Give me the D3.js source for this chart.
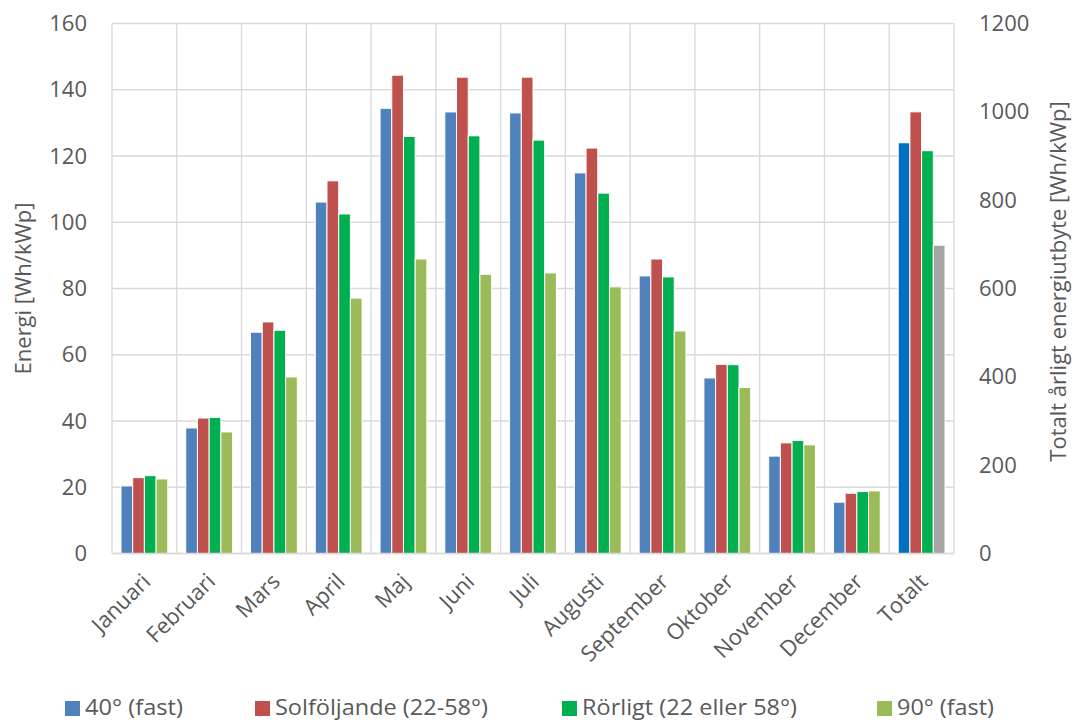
<!DOCTYPE html>
<html>
<head>
<meta charset="utf-8">
<script src="https://cdn.jsdelivr.net/npm/d3@7"></script>
<style>
  html, body { margin: 0; padding: 0; background: #fff; }
  svg { display: block; font-family: "Open Sans", "Noto Sans", sans-serif; }
</style>
</head>
<body>
<svg id="chart" width="1075" height="722"></svg>
<script>
// Monthly energy per installed kWp for four mounting strategies
const months = ["Januari", "Februari", "Mars", "April", "Maj", "Juni", "Juli",
                "Augusti", "September", "Oktober", "November", "December"];
const totalLabel = "Totalt";
const seriesNames = ["40° (fast)", "Solföljande (22-58°)", "Rörligt (22 eller 58°)", "90° (fast)"];

const fixed40   = [20.4, 37.9, 66.8, 106.1, 134.4, 133.3, 133.0, 114.9, 83.8, 53.0, 29.4, 15.5];
const tracking  = [22.9, 40.9, 69.9, 112.5, 144.4, 143.8, 143.8, 122.4, 88.9, 57.1, 33.4, 18.2];
const switching = [23.5, 41.1, 67.4, 102.5, 125.9, 126.1, 124.8, 108.8, 83.5, 57.0, 34.1, 18.7];
const fixed90   = [22.5, 36.7, 53.3, 77.1, 88.9, 84.3, 84.7, 80.5, 67.2, 50.1, 32.8, 18.9];

// Yearly totals, read against the right-hand axis
const yearlyTotals = [930, 1000, 912, 698];

const leftTicks = [0, 20, 40, 60, 80, 100, 120, 140, 160];
const rightTicks = [0, 200, 400, 600, 800, 1000, 1200];

const monthColors = ["#4F81BD", "#C0504D", "#00B050", "#9BBB59"];
const totalColors = ["#0070C0", "#C0504D", "#00B050", "#A5A5A5"];

const svg = d3.select("#chart");
const plot = { left: 112, right: 954, top: 23.5, bottom: 553.5 };

const categories = months.concat([totalLabel]);
const x = d3.scaleBand().domain(categories).range([plot.left, plot.right]).padding(0);
const groupWidth = 46.8;
const xInner = d3.scaleBand().domain(d3.range(4)).range([0, groupWidth]).padding(0);
const groupOffset = (x.bandwidth() - groupWidth) / 2;

const yLeft = d3.scaleLinear().domain([0, 160]).range([plot.bottom, plot.top]);
const yRight = d3.scaleLinear().domain([0, 1200]).range([plot.bottom, plot.top]);

const gridColor = "#D9D9D9";
const textColor = "#595959";

// Grid: horizontal lines at each left tick, vertical lines at category boundaries
const grid = svg.append("g");
grid.selectAll("line.h").data(leftTicks).join("line")
  .attr("x1", plot.left).attr("x2", plot.right)
  .attr("y1", d => yLeft(d)).attr("y2", d => yLeft(d))
  .attr("stroke", gridColor).attr("stroke-width", 1.3);
const boundaries = categories.map(c => x(c)).concat([plot.right]);
grid.selectAll("line.v").data(boundaries).join("line")
  .attr("x1", d => d).attr("x2", d => d)
  .attr("y1", plot.top).attr("y2", plot.bottom)
  .attr("stroke", gridColor).attr("stroke-width", 1.3);

// Monthly bars plus the yearly totals group
const monthly = [fixed40, tracking, switching, fixed90];
const barData = [];
months.forEach((m, i) => {
  monthly.forEach((s, k) => barData.push({ cat: m, k, v: s[i], y: yLeft, color: monthColors[k] }));
});
yearlyTotals.forEach((v, k) => barData.push({ cat: totalLabel, k, v, y: yRight, color: totalColors[k] }));

svg.append("g").selectAll("rect").data(barData).join("rect")
  .attr("x", d => x(d.cat) + groupOffset + xInner(d.k))
  .attr("width", xInner.bandwidth())
  .attr("y", d => d.y(d.v))
  .attr("height", d => plot.bottom - d.y(d.v))
  .attr("fill", d => d.color)
  .attr("stroke", "#fff").attr("stroke-width", 1);

// Baseline
svg.append("line")
  .attr("x1", plot.left).attr("x2", plot.right)
  .attr("y1", plot.bottom).attr("y2", plot.bottom)
  .attr("stroke", gridColor).attr("stroke-width", 1.3);

const tickFont = 22;

// Left axis
const leftAxis = d3.axisLeft(yLeft).tickValues(leftTicks).tickSize(0).tickPadding(0)
  .tickFormat(d3.format("d"));
const gl = svg.append("g").attr("transform", `translate(${plot.left - 25},0)`).call(leftAxis);
gl.select(".domain").remove();
gl.selectAll("text").attr("fill", textColor).attr("font-size", tickFont)
  .attr("font-family", "'Open Sans', sans-serif");

// Right axis
const rightAxis = d3.axisRight(yRight).tickValues(rightTicks).tickSize(0).tickPadding(0)
  .tickFormat(d3.format("d"));
const gr = svg.append("g").attr("transform", `translate(${plot.right + 25},0)`).call(rightAxis);
gr.select(".domain").remove();
gr.selectAll("text").attr("fill", textColor).attr("font-size", tickFont)
  .attr("font-family", "'Open Sans', sans-serif");

// Category labels, rotated
const xAxis = d3.axisBottom(x).tickSize(0).tickPadding(0);
const gx = svg.append("g").attr("transform", `translate(0,${plot.bottom})`).call(xAxis);
gx.select(".domain").remove();
gx.selectAll("text")
  .attr("fill", textColor).attr("font-size", 22)
  .attr("font-family", "'Open Sans', sans-serif")
  .attr("text-anchor", "end")
  .attr("transform", "translate(2,24) rotate(-45)")
  .attr("dy", "0.35em").attr("y", 0);

// Axis titles
svg.append("text")
  .attr("transform", `translate(31,${(plot.top + plot.bottom) / 2}) rotate(-90)`)
  .attr("text-anchor", "middle").attr("fill", textColor).attr("font-size", 22)
  .text("Energi [Wh/kWp]");
svg.append("text")
  .attr("transform", `translate(1066,${(plot.top + plot.bottom) / 2 - 7}) rotate(-90)`)
  .attr("text-anchor", "middle").attr("fill", textColor).attr("font-size", 22)
  .text("Totalt årligt energiutbyte [Wh/kWp]");

// Legend
const legendX = [65, 255, 562, 877];
const legendTextWidth = [98, 213, 215, 97];
const legend = svg.append("g");
seriesNames.forEach((name, k) => {
  legend.append("rect")
    .attr("x", legendX[k]).attr("y", 701).attr("width", 15).attr("height", 15)
    .attr("fill", monthColors[k]);
  legend.append("text")
    .attr("x", legendX[k] + 20).attr("y", 715)
    .attr("fill", textColor).attr("font-size", 21)
    .attr("textLength", legendTextWidth[k]).attr("lengthAdjust", "spacingAndGlyphs")
    .text(name);
});
</script>
</body>
</html>
